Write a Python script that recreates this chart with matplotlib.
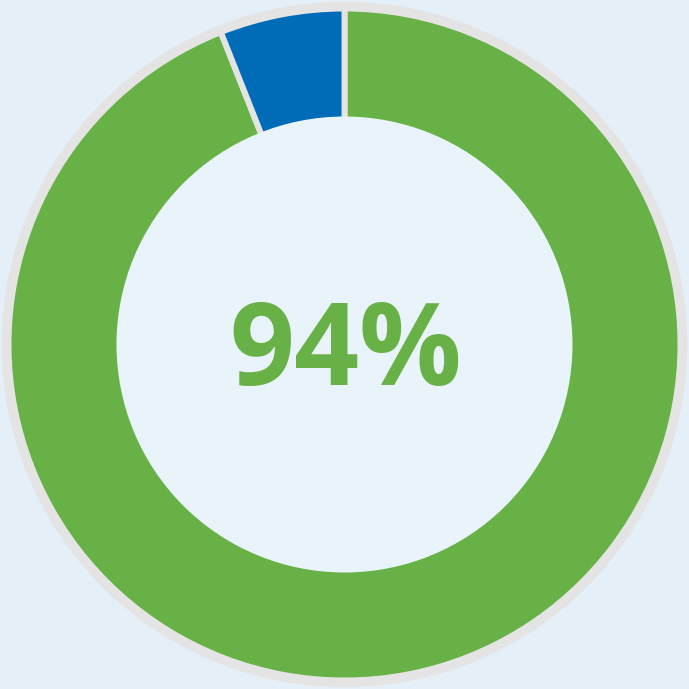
import matplotlib.pyplot as plt
from matplotlib.patches import Circle

labels = ["Yes", "No"]
values = [94, 6]
colors = ["#68b146", "#006bb6"]
center_label = "94%"

bg = "#e5eff8"
hole = "#e9f3fa"
gray = "#e4e4e4"

fig = plt.figure(figsize=(6.89, 6.89), dpi=100, facecolor=bg)
ax = fig.add_axes([0, 0, 1, 1])
ax.set_facecolor(bg)

# gray rim behind the ring
ax.add_patch(Circle((0, 0), 342, color=gray, zorder=0))

ax.pie(values, colors=colors, radius=336, startangle=90, counterclock=False,
       wedgeprops=dict(width=115, edgecolor=gray, linewidth=4.3),
       frame=True)

ax.add_patch(Circle((0, 0), 228, facecolor=hole, edgecolor="none", zorder=5))

ax.text(1, -41, center_label, ha="center", va="baseline", fontsize=82,
        fontweight="bold", family=["Open Sans", "DejaVu Sans"],
        color=colors[0], zorder=6)

ax.set_xlim(-344.5, 344.5)
ax.set_ylim(-344.5, 344.5)
ax.set_aspect("equal")
ax.axis("off")

fig.savefig("out.png", dpi=100, facecolor=bg)
